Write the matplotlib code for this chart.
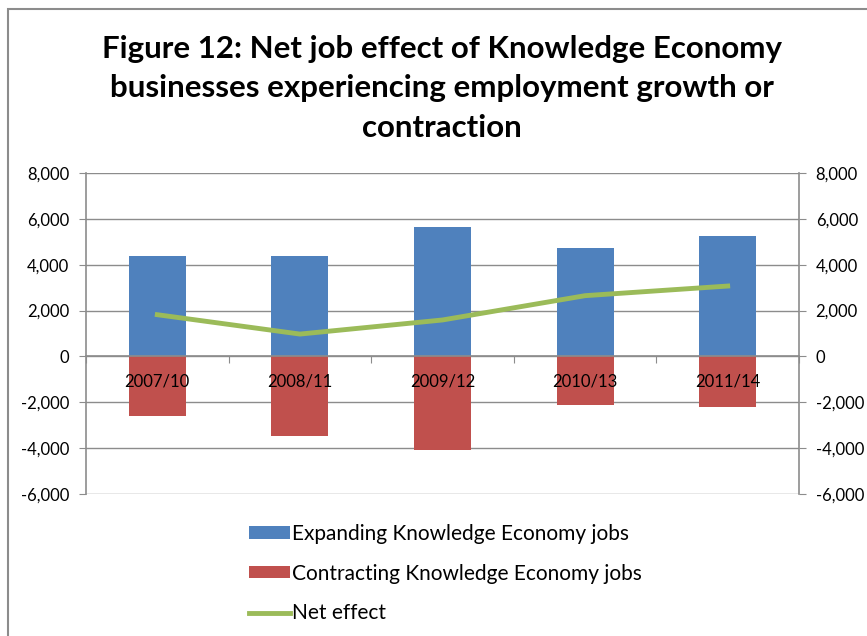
import numpy as np
import matplotlib.pyplot as plt
from matplotlib.patches import Rectangle
from matplotlib.ticker import FuncFormatter

# Jobs in businesses that grew or shrank, by period
periods = ['2007/10', '2008/11', '2009/12', '2010/13', '2011/14']
expanding = [4390, 4390, 5660, 4710, 5260]
contracting = [-2590, -3460, -4080, -2120, -2210]
net_effect = [1820, 975, 1590, 2650, 3070]

plt.rcParams['font.family'] = ['Lato', 'DejaVu Sans']

fig = plt.figure(figsize=(8.67, 6.36), dpi=100)
ax = fig.add_axes([86/867, 1 - 494/636, 713/867, 321/636])

x = np.arange(len(periods))
b1 = ax.bar(x, expanding, width=0.4, color='#4F81BD', zorder=2)
b2 = ax.bar(x, contracting, width=0.4, color='#C0504D', zorder=2)
ln, = ax.plot(x, net_effect, color='#9BBB59', lw=3.5, zorder=3)

ax.set_xlim(-0.5, len(periods) - 0.5)
ax.set_ylim(-6000, 8000)
ax.set_yticks(np.arange(-6000, 8001, 2000))
ax.yaxis.set_major_formatter(FuncFormatter(lambda v, p: f'{v:,.0f}'))
ax.yaxis.grid(True, color='#8c8c8c', lw=1, zorder=0)
ax.set_axisbelow(True)

# category axis sits on the zero line, with ticks between categories
ax.spines['bottom'].set_position(('data', 0))
ax.spines['bottom'].set_zorder(2.5)
ax.spines['top'].set_visible(False)
for s in ['left', 'right', 'bottom']:
    ax.spines[s].set_color('#8c8c8c')
    ax.spines[s].set_linewidth(1.2)
ax.set_xticks(np.arange(-0.5, len(periods), 1.0))
ax.set_xticklabels([])
ax.set_xticks(x, minor=True)
ax.set_xticklabels(periods, minor=True, fontsize=12)
ax.tick_params(axis='x', which='major', direction='out', length=5, color='#8c8c8c')
ax.tick_params(axis='x', which='minor', length=0, pad=12)
ax.xaxis.set_zorder(2.5)  # period labels sit on top of the bars

ax.tick_params(axis='y', which='both', left=True, right=True, labelleft=True, labelright=True,
               direction='out', length=5, color='#8c8c8c', labelsize=12, pad=7)

fig.suptitle('Figure 12: Net job effect of Knowledge Economy\n'
             'businesses experiencing employment growth or\n'
             'contraction',
             x=442/867, y=1 - 35/636, fontsize=22.5, fontweight='bold', linespacing=1.5)

fig.legend([b1, b2, ln],
           ['Expanding Knowledge Economy jobs', 'Contracting Knowledge Economy jobs', 'Net effect'],
           loc='upper left', bbox_to_anchor=(230/867, 1 - 505/636), frameon=False,
           fontsize=15, handlelength=2.0, handleheight=0.55, handletextpad=0.1,
           labelspacing=0.95)

fig.patches.append(Rectangle((8/867, -0.05), 1.0, 1.05 - 9/636, transform=fig.transFigure,
                             fill=False, edgecolor='#8c8c8c', lw=1.5))

fig.savefig('out.png', dpi=100)
